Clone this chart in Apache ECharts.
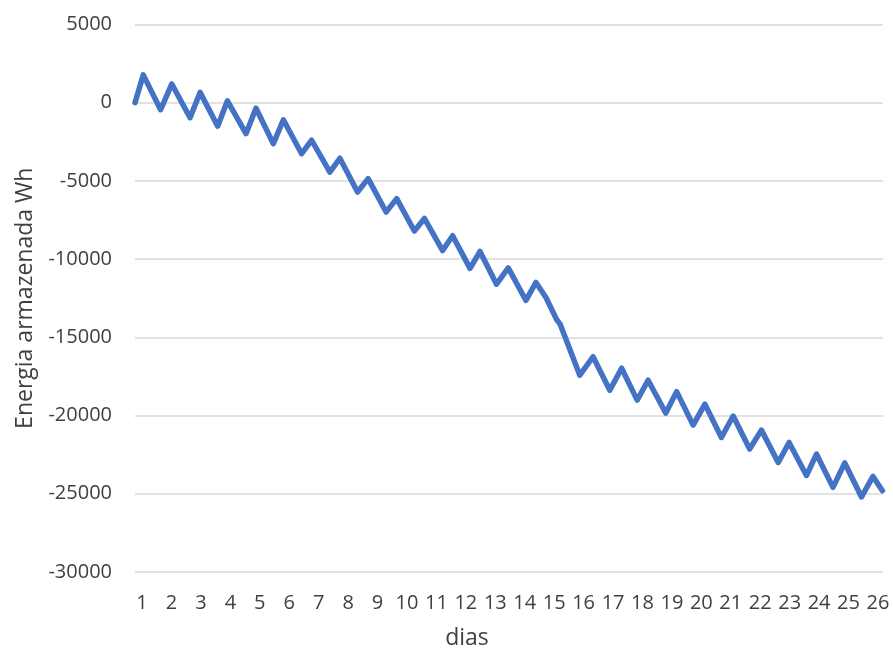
<!DOCTYPE html>
<html>
<head>
<meta charset="utf-8">
<title>Energia armazenada</title>
<script src="https://cdn.jsdelivr.net/npm/echarts@6/dist/echarts.min.js"></script>
<style>
  html, body { margin: 0; padding: 0; background: #ffffff; }
  #chart { width: 893px; height: 655px; }
</style>
</head>
<body>
<div id="chart"></div>
<script>
// Time in days (fractional) for each vertex of the stored-energy curve
const dias = [
  0.76, 1.04, 1.63, 2.01, 2.63, 2.97, 3.57, 3.90, 4.53, 4.87,
  5.46, 5.80, 6.42, 6.76, 7.38, 7.72, 8.32, 8.68, 9.29, 9.65,
  10.25, 10.59, 11.21, 11.55, 12.14, 12.48, 13.04, 13.44, 14.04, 14.38,
  14.72, 15.08, 15.20, 15.87, 16.32, 16.89, 17.29, 17.82, 18.19, 18.79,
  19.16, 19.72, 20.12, 20.68, 21.08, 21.64, 22.04, 22.61, 22.98, 23.57,
  23.91, 24.47, 24.87, 25.44, 25.83, 26.15
];

// Stored energy (Wh) at each of those instants
const energia = [
  0, 1780, -450, 1200, -960, 660, -1500, 120, -1980, -350,
  -2620, -1090, -3260, -2400, -4440, -3550, -5710, -4850, -6990, -6130,
  -8200, -7400, -9450, -8500, -10590, -9510, -11600, -10560, -12640, -11490,
  -12450, -13850, -14150, -17420, -16240, -18380, -16970, -19010, -17740, -19840,
  -18470, -20610, -19270, -21400, -20030, -22140, -20930, -23000, -21720, -23830,
  -22460, -24590, -23030, -25200, -23890, -24800
];

// Day numbers written under the horizontal axis
const rotulosDias = [1, 2, 3, 4, 5, 6, 7, 8, 9, 10, 11, 12, 13, 14, 15, 16, 17, 18, 19, 20, 21, 22, 23, 24, 25, 26];

// Vertical axis range and step (Wh)
const eixoYMin = -30000;
const eixoYMax = 5000;
const eixoYPasso = 5000;

const pontos = dias.map((d, i) => [d, energia[i]]);

const corTexto = '#404040';
const fonte = '"Open Sans", "Liberation Sans", sans-serif';

const chart = echarts.init(document.getElementById('chart'), null, { renderer: 'canvas' });

chart.setOption({
  animation: false,
  backgroundColor: '#ffffff',
  grid: { left: 135, right: 10, top: 24.5, bottom: 82, containLabel: false },
  xAxis: {
    type: 'value',
    min: 0.76,
    max: 26.17,
    name: 'dias',
    nameLocation: 'middle',
    nameGap: 55,
    nameTextStyle: { color: corTexto, fontFamily: fonte, fontSize: 23, padding: [0, 84, 0, 0] },
    axisLine: { show: false },
    axisTick: { show: false },
    splitLine: { show: false },
    axisLabel: {
      customValues: rotulosDias,
      color: corTexto,
      fontFamily: fonte,
      fontSize: 20,
      margin: 21
    }
  },
  yAxis: {
    type: 'value',
    min: eixoYMin,
    max: eixoYMax,
    interval: eixoYPasso,
    name: 'Energia armazenada Wh',
    nameLocation: 'middle',
    nameRotate: 90,
    nameGap: 98,
    nameTextStyle: { color: corTexto, fontFamily: fonte, fontSize: 23 },
    axisLine: { show: false },
    axisTick: { show: false },
    splitLine: { show: true, lineStyle: { color: '#d9d9d9', width: 1.5 } },
    axisLabel: {
      color: corTexto,
      fontFamily: fonte,
      fontSize: 20,
      margin: 23,
      formatter: (v) => String(v)
    }
  },
  series: [{
    type: 'line',
    data: pontos,
    showSymbol: false,
    symbol: 'none',
    lineStyle: { color: '#4472c4', width: 5.5, cap: 'round', join: 'round' },
    clip: false
  }]
});
</script>
</body>
</html>
